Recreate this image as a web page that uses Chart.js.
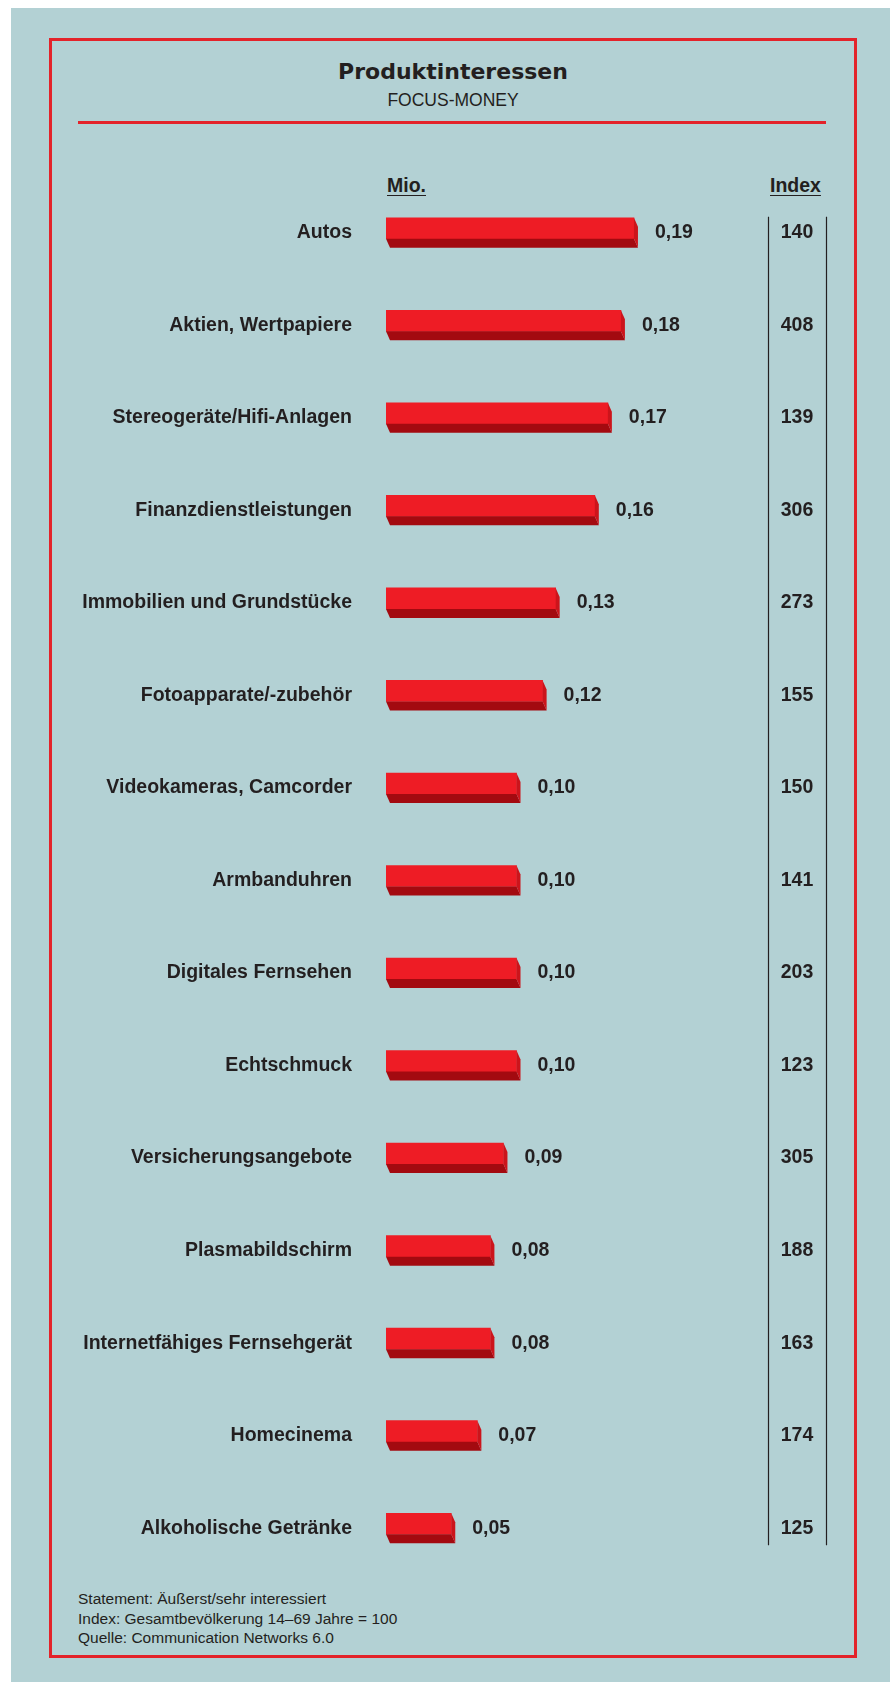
<!DOCTYPE html>
<html>
<head>
<meta charset="utf-8">
<script src="https://cdn.jsdelivr.net/npm/chart.js@4.4.1/dist/chart.umd.min.js"></script>
<style>
  html, body { margin: 0; padding: 0; background: #fff; }
  body { width: 890px; height: 1682px; position: relative; overflow: hidden; font-family: "Liberation Sans", Arial, sans-serif; color: #231f20; }
  .panel { position: absolute; left: 11px; top: 8px; right: 0; bottom: 0; background: #b3d1d4; }
  .frame { position: absolute; left: 49px; top: 38px; width: 802px; height: 1614px; border: 3px solid #e3232a; }
  .title { position: absolute; left: 49px; width: 808px; top: 59px; text-align: center; font: bold 22px/26px "DejaVu Sans", sans-serif; }
  .subtitle { position: absolute; left: 49px; width: 808px; top: 90px; text-align: center; font-size: 17.5px; line-height: 20px; }
  .rule { position: absolute; left: 78px; top: 121px; width: 748px; height: 3px; background: #e3232a; }
  .head { position: absolute; top: 173px; font-weight: bold; font-size: 19.5px; line-height: 24px; text-decoration: underline; text-underline-offset: 3px; }
  .notes { position: absolute; left: 78px; top: 1589px; font-size: 15.5px; line-height: 19.5px; }
  #chartBox { position: absolute; left: 0; top: 182px; width: 890px; height: 1388px; }
</style>
</head>
<body>
<div class="panel"></div>
<div class="frame"></div>
<div class="title">Produktinteressen</div>
<div class="subtitle">FOCUS-MONEY</div>
<div class="rule"></div>
<div class="head" style="left:387px">Mio.</div>
<div class="head" style="left:770px">Index</div>
<div id="chartBox"><canvas id="barChart"></canvas></div>
<div class="notes">
  Statement: Äußerst/sehr interessiert<br>
  Index: Gesamtbevölkerung 14–69 Jahre = 100<br>
  Quelle: Communication Networks 6.0
</div>

<script>
// data
const categories = [
  'Autos', 'Aktien, Wertpapiere', 'Stereogeräte/Hifi-Anlagen', 'Finanzdienstleistungen',
  'Immobilien und Grundstücke', 'Fotoapparate/-zubehör', 'Videokameras, Camcorder',
  'Armbanduhren', 'Digitales Fernsehen', 'Echtschmuck', 'Versicherungsangebote',
  'Plasmabildschirm', 'Internetfähiges Fernsehgerät', 'Homecinema', 'Alkoholische Getränke'
];
const mioValues = [0.19, 0.18, 0.17, 0.16, 0.13, 0.12, 0.10, 0.10, 0.10, 0.10, 0.09, 0.08, 0.08, 0.07, 0.05];
const indexValues = [140, 408, 139, 306, 273, 155, 150, 141, 203, 123, 305, 188, 163, 174, 125];

const DX = 4;   // depth of the 3d block, to the right
const DY = 9;   // depth of the 3d block, downwards
const labelFont = 'bold 19.5px "Liberation Sans", Arial, sans-serif';

// draws the bottom and side faces, the value labels and the index column
const bar3d = {
  id: 'bar3d',
  afterDatasetsDraw(chart) {
    const ctx = chart.ctx;
    const area = chart.chartArea;
    const bars = chart.getDatasetMeta(0).data;
    ctx.save();
    bars.forEach((bar, i) => {
      const p = bar.getProps(['x', 'y', 'base', 'height'], true);
      const top = p.y - p.height / 2;
      const bottom = p.y + p.height / 2;

      // bottom face
      ctx.fillStyle = '#a30a10';
      ctx.beginPath();
      ctx.moveTo(p.base, bottom);
      ctx.lineTo(p.x, bottom);
      ctx.lineTo(p.x + DX, bottom + DY);
      ctx.lineTo(p.base + DX, bottom + DY);
      ctx.closePath();
      ctx.fill();

      // side face
      ctx.fillStyle = '#cc141b';
      ctx.beginPath();
      ctx.moveTo(p.x, top);
      ctx.lineTo(p.x + DX, top + DY);
      ctx.lineTo(p.x + DX, bottom + DY);
      ctx.lineTo(p.x, bottom);
      ctx.closePath();
      ctx.fill();

      // value label
      ctx.fillStyle = '#231f20';
      ctx.font = labelFont;
      ctx.textBaseline = 'middle';
      ctx.textAlign = 'left';
      ctx.fillText(mioValues[i].toFixed(2).replace('.', ','), p.x + DX + 17, p.y + 4.5);

      // index value
      ctx.textAlign = 'center';
      ctx.fillText(String(indexValues[i]), area.right + 29, p.y + 4.5);
    });

    // index column lines
    const first = bars[0], last = bars[bars.length - 1];
    const y0 = first.y - first.height / 2 - 1;
    const y1 = last.y + last.height / 2 + DY + 2;
    ctx.strokeStyle = '#231f20';
    ctx.lineWidth = 1.2;
    ctx.beginPath();
    ctx.moveTo(area.right + 0.5, y0);
    ctx.lineTo(area.right + 0.5, y1);
    ctx.moveTo(area.right + 58.5, y0);
    ctx.lineTo(area.right + 58.5, y1);
    ctx.stroke();
    ctx.restore();
  }
};

const ctx = document.getElementById('barChart').getContext('2d');
new Chart(ctx, {
  type: 'bar',
  data: {
    labels: categories,
    datasets: [{
      data: mioValues,
      backgroundColor: '#ee1c25',
      borderWidth: 0,
      barThickness: 21,
    }],
  },
  options: {
    indexAxis: 'y',
    responsive: true,
    maintainAspectRatio: false,
    animation: false,
    layout: { padding: { left: 0, right: 122, top: 0, bottom: 0 } },
    plugins: {
      legend: { display: false },
      tooltip: { enabled: false },
    },
    scales: {
      x: { display: false, min: 0, max: 0.2927 },
      y: {
        grid: { display: false, drawTicks: false },
        border: { display: false },
        ticks: {
          color: '#231f20',
          font: { family: '"Liberation Sans", Arial, sans-serif', size: 19.5, weight: 'bold' },
          padding: 34,
          labelOffset: 4.5,
        },
        afterFit(scale) {
          scale.width = 386;
          // the tick padding should not shrink the rows
          scale.paddingTop = 0;
          scale.paddingBottom = 0;
        },
      },
    },
  },
  plugins: [bar3d],
});
</script>
</body>
</html>
